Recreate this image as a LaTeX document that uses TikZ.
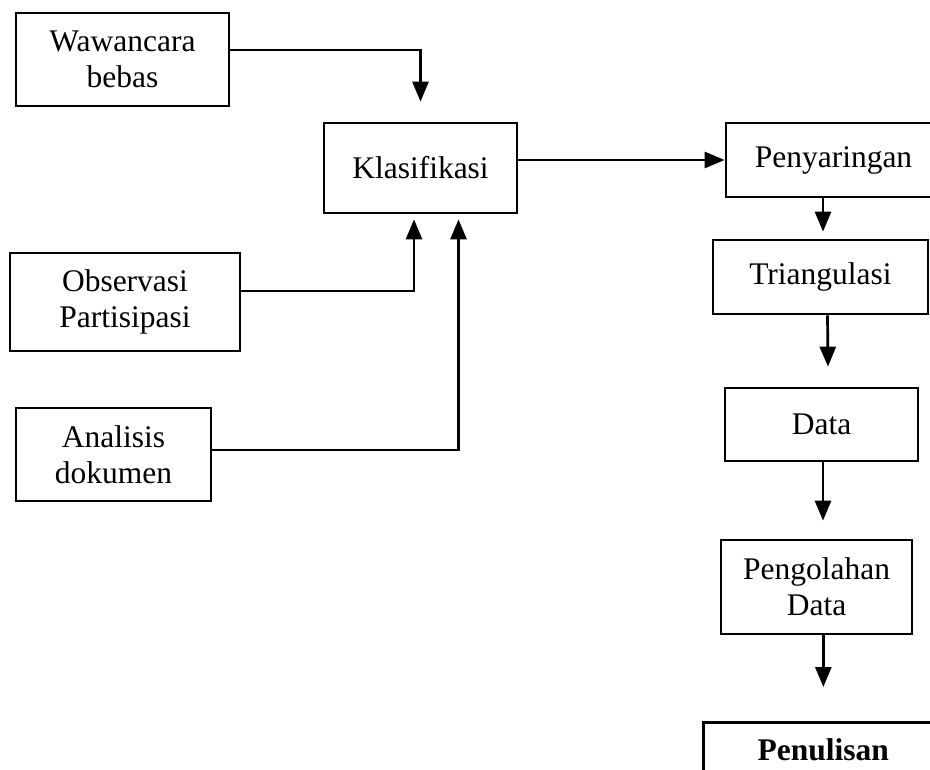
\documentclass[tikz,border=0pt]{standalone}
\usepackage{fontspec}
\setmainfont{Liberation Serif}
\usepackage{tikz}
\usetikzlibrary{arrows.meta,positioning,calc}
\tikzstyle{block} = [draw, rectangle, line width=2.7pt, inner sep=0pt, align=center, font=\fontsize{31.5}{36}\selectfont]

\begin{document}
\begin{tikzpicture}[x=1pt, y=-1pt, >={Triangle[length=20pt,width=16pt]}, line width=2.7pt]
  \useasboundingbox (0,0) rectangle (930,770);
  \clip (0,0) rectangle (930,770);
  % Nodes
  \node [block, minimum width=213pt, minimum height=93pt] (waw) at (122.5,59.5) {Wawancara\\bebas};
  \node [block, minimum width=193pt, minimum height=90pt] (kla) at (420.5,168) {Klasifikasi};
  \node [block, minimum width=230pt, minimum height=98pt] (obs) at (125,302) {Observasi\\Partisipasi};
  \node [block, minimum width=195pt, minimum height=93pt] (ana) at (113.5,454.5) {Analisis\\dokumen};
  \node [block, minimum width=215pt, minimum height=74pt] (pen) at (833.5,160) {Penyaringan};
  \node [block, minimum width=215pt, minimum height=74pt] (tri) at (820.5,277) {Triangulasi};
  \node [block, minimum width=193pt, minimum height=73pt] (dat) at (821.5,424.5) {Data};
  \node [block, minimum width=191pt, minimum height=94pt] (olah) at (816.5,587) {Pengolahan\\Data};
  \node [block, anchor=north west, minimum width=240pt, text height=28pt, text depth=60pt, inner ysep=10pt, font=\fontsize{31.5}{36}\selectfont\bfseries] (tulis) at (702,721) {Penulisan};

  % Path
  \draw [->] ($(waw.east)+(0,-9.5)$) -| ([yshift=20pt]kla.north);
  \draw [->] ($(obs.east)+(0,-11)$) -| ([xshift=-6.5pt,yshift=-5pt]kla.south);
  \draw [->] ($(ana.east)+(0,-4.5)$) -| ([xshift=38pt,yshift=-5pt]kla.south);
  \draw [->] (kla.east |- pen.west) -- (pen.west);
  \draw [->] ($(pen.south)+(-10.5,0)$) -- ([xshift=2.5pt,yshift=7pt]tri.north);
  \draw [->] ($(tri.south)+(7,0)$) -- ([xshift=6.5pt,yshift=20pt]dat.north);
  \draw [->] ($(dat.south)+(1.5,0)$) -- ([xshift=6.5pt,yshift=18pt]olah.north);
  \draw [->] (olah.south -| tulis.north) -- ([yshift=34pt]tulis.north);
\end{tikzpicture}
\end{document}
